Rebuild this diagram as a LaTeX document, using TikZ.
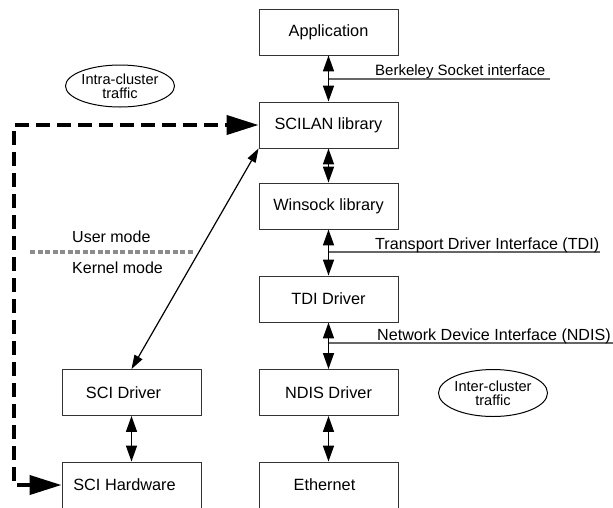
\documentclass[tikz,border=0pt]{standalone}
\usepackage{fontspec}
\setmainfont{Liberation Sans}
\usetikzlibrary{arrows.meta,shapes.geometric}
\begin{document}
\begin{tikzpicture}[x=1pt,y=-1pt,
 box/.style={draw=black!80,line width=0.9pt,minimum width=139pt,minimum height=46pt,inner sep=0pt,font=\fontsize{16.3}{18}\selectfont},
 dbl/.style={line width=1.5pt,{Triangle[length=16pt,width=11pt]}-{Triangle[length=16pt,width=11pt]}},
 diag/.style={line width=1.2pt,{Triangle[length=14pt,width=9pt]}-{Triangle[length=14pt,width=9pt]}},
 iface/.style={draw=black!60,line width=1.3pt},
 lbl/.style={font=\fontsize{16.1}{18}\selectfont,inner sep=0pt,anchor=base west},
 smalllbl/.style={font=\fontsize{15}{17}\selectfont,inner sep=0pt,anchor=base west},
 modelbl/.style={font=\fontsize{16}{18}\selectfont,inner sep=0pt,anchor=base west},
 cloud/.style={draw,ellipse,line width=1pt,inner sep=0pt,font=\fontsize{14.6}{14}\selectfont,align=center},
 traffic/.style={line width=4pt,dash pattern=on 14pt off 7pt,{Triangle[length=32pt,width=19pt]}-{Triangle[length=32pt,width=19pt]}},
 modeline/.style={draw=black!45,line width=4pt,dash pattern=on 5pt off 2.5pt},
]
\useasboundingbox (0,0) rectangle (613,507);
% right column
\node[box] (app) at (328.5,32) {Application};
\node[box] (scilan) at (328.5,125) {SCILAN library};
\node[box] (wins) at (328.5,206) {Winsock library};
\node[box] (tdi) at (328.5,299) {TDI Driver};
\node[box] (ndis) at (328.5,392.5) {NDIS Driver};
\node[box] (eth) at (328.5,485) {\hspace*{-8pt}Ethernet};
% left column
\node[box] (scid) at (131.5,392.5) {\hspace*{-16pt}SCI Driver};
\node[box] (schw) at (131.5,485) {\hspace*{-14pt}SCI Hardware};
% vertical arrows
\draw[dbl] (app) -- (scilan);
\draw[dbl] (scilan) -- (wins);
\draw[dbl] (wins) -- (tdi);
\draw[dbl] (tdi) -- (ndis);
\draw[dbl] (ndis) -- (eth);
\draw[dbl] (scid) -- (schw);
% interfaces
\coordinate (bsi) at (328.5,79);
\coordinate (bsiend) at (550,79);
\draw[iface] (bsi) -- (bsiend);
\node[smalllbl] (bsil) at (375,75) {Berkeley Socket interface};
\coordinate (tdii) at (328.5,252);
\coordinate (tdiend) at (600,252);
\draw[iface] (tdii) -- (tdiend);
\node[lbl] (tdil) at (375,249) {Transport Driver Interface (TDI)};
\coordinate (ndisi) at (328.5,343);
\coordinate (ndisend) at (613,343);
\draw[iface] (ndisi) -- (ndisend);
\node[lbl] (ndisl) at (377,340) {Network Device Interface (NDIS)};
% diagonal
\draw[diag] (scid.north) -- (scilan.south west);
% traffic ellipses
\node[cloud,minimum width=94pt,minimum height=42pt] (intra) at (120,86) {Intra-cluster\\traffic};
\node[cloud,minimum width=85pt,minimum height=47pt] (inter) at (493,393) {Inter-cluster\\traffic};
% intra-cluster dashed path
\coordinate (corner) at (14,125);
\draw[traffic] (schw.west) -- (schw.west -| corner) -- (corner) -- (scilan.west);
% user/kernel boundary
\coordinate (ml) at (30,252);
\coordinate (mr) at (193,252);
\draw[modeline] (ml) -- (mr);
\node[modelbl] (um) at (72,242) {User mode};
\node[modelbl] (km) at (72,273) {Kernel mode};
\end{tikzpicture}
\end{document}
